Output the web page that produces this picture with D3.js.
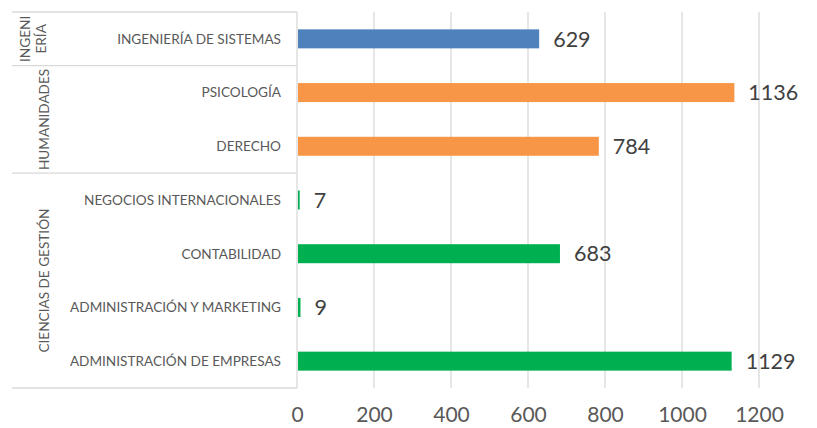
<!DOCTYPE html>
<html><head><meta charset="utf-8">
<script src="https://cdn.jsdelivr.net/npm/d3@7"></script>
<style>
body{margin:0;background:#fff;}
text{font-family:Lato, "Open Sans", sans-serif;}
</style></head>
<body><svg id="c" width="817" height="428"></svg>
<script>
const categories = ["INGENIERÍA DE SISTEMAS","PSICOLOGÍA","DERECHO","NEGOCIOS INTERNACIONALES","CONTABILIDAD","ADMINISTRACIÓN Y MARKETING","ADMINISTRACIÓN DE EMPRESAS"];
const values = [629,1136,784,7,683,9,1129];
const groupOf = ["INGENIERÍA","HUMANIDADES","HUMANIDADES","CIENCIAS DE GESTIÓN","CIENCIAS DE GESTIÓN","CIENCIAS DE GESTIÓN","CIENCIAS DE GESTIÓN"];
const groups = [
  {name:"INGENIERÍA", lines:["INGENI","ERÍA"], color:"#4F81BD"},
  {name:"HUMANIDADES", lines:["HUMANIDADES"], color:"#F79646"},
  {name:"CIENCIAS DE GESTIÓN", lines:["CIENCIAS DE GESTIÓN"], color:"#00B050"}
];
const ticks = [0,200,400,600,800,1000,1200];

const svg = d3.select("#c");
const pLeft = 297, pRight = 759, pTop = 12, pBottom = 388, boxLeft = 12;
const x = d3.scaleLinear().domain([0,1200]).range([pLeft,pRight]);
const y = d3.scaleBand().domain(categories).range([pTop,pBottom]).paddingInner(0).paddingOuter(0);
const grid = "#d9d9d9";

// gridlines
svg.append("g").selectAll("line").data(ticks.slice(1)).join("line")
  .attr("x1",d=>x(d)).attr("x2",d=>x(d)).attr("y1",pTop).attr("y2",pBottom)
  .attr("stroke",grid).attr("stroke-width",1.3);

// axis tick labels
const xAxis = d3.axisBottom(x).tickValues(ticks).tickFormat(d3.format("d")).tickSize(0).tickPadding(0);
const ax = svg.append("g").attr("transform",`translate(0,${pBottom})`).call(xAxis);
ax.select(".domain").remove();
ax.selectAll("text").attr("font-size",21).attr("fill","#595959").attr("dy",0).attr("y",34)
  .style("font-family","Lato, sans-serif");

// category axis line
svg.append("line").attr("x1",pLeft).attr("x2",pLeft).attr("y1",pTop).attr("y2",pBottom).attr("stroke",grid).attr("stroke-width",1.3);

// group separator lines
const colorOf = g => groups.find(d=>d.name===g).color;
const bounds = [pTop];
categories.forEach((c,i)=>{ if(i>0 && groupOf[i]!==groupOf[i-1]) bounds.push(y(c)); });
bounds.push(pBottom);
svg.append("g").selectAll("line").data(bounds).join("line")
  .attr("x1",boxLeft).attr("x2",pLeft).attr("y1",d=>d).attr("y2",d=>d)
  .attr("stroke",grid).attr("stroke-width",1.3);

// bars
const bh = 19;
svg.append("g").selectAll("rect").data(categories).join("rect")
  .attr("x",x(0)+1).attr("y",d=>y(d)+y.bandwidth()/2-bh/2)
  .attr("width",(d,i)=>Math.max(0,x(values[i])-x(0)-1)).attr("height",bh)
  .attr("fill",(d,i)=>colorOf(groupOf[i]));

// value labels
svg.append("g").selectAll("text").data(categories).join("text")
  .attr("x",(d,i)=>x(values[i])+14).attr("y",d=>y(d)+y.bandwidth()/2)
  .attr("dy","0.36em").attr("font-size",21.5).attr("fill","#404040")
  .text((d,i)=>values[i]);

// category labels
svg.append("g").selectAll("text").data(categories).join("text")
  .attr("x",281).attr("y",d=>y(d)+y.bandwidth()/2).attr("dy","0.36em")
  .attr("text-anchor","end").attr("font-size",13.6).attr("fill","#595959").text(d=>d);

// group labels
groups.forEach((g,gi)=>{
  const y0 = bounds[gi], y1 = bounds[gi+1], cy=(y0+y1)/2;
  const n = g.lines.length;
  const cx = n===1 ? 44 : 33;
  const t = svg.append("text").attr("transform",`translate(${cx},${cy}) rotate(-90)`)
    .attr("text-anchor","middle").attr("font-size",13.6).attr("fill","#595959");
  g.lines.forEach((l,li)=>{
    t.append("tspan").attr("x",0).attr("y",(li-(n-1)/2)*16.5).attr("dy","0.36em").text(l);
  });
});
</script></body></html>
